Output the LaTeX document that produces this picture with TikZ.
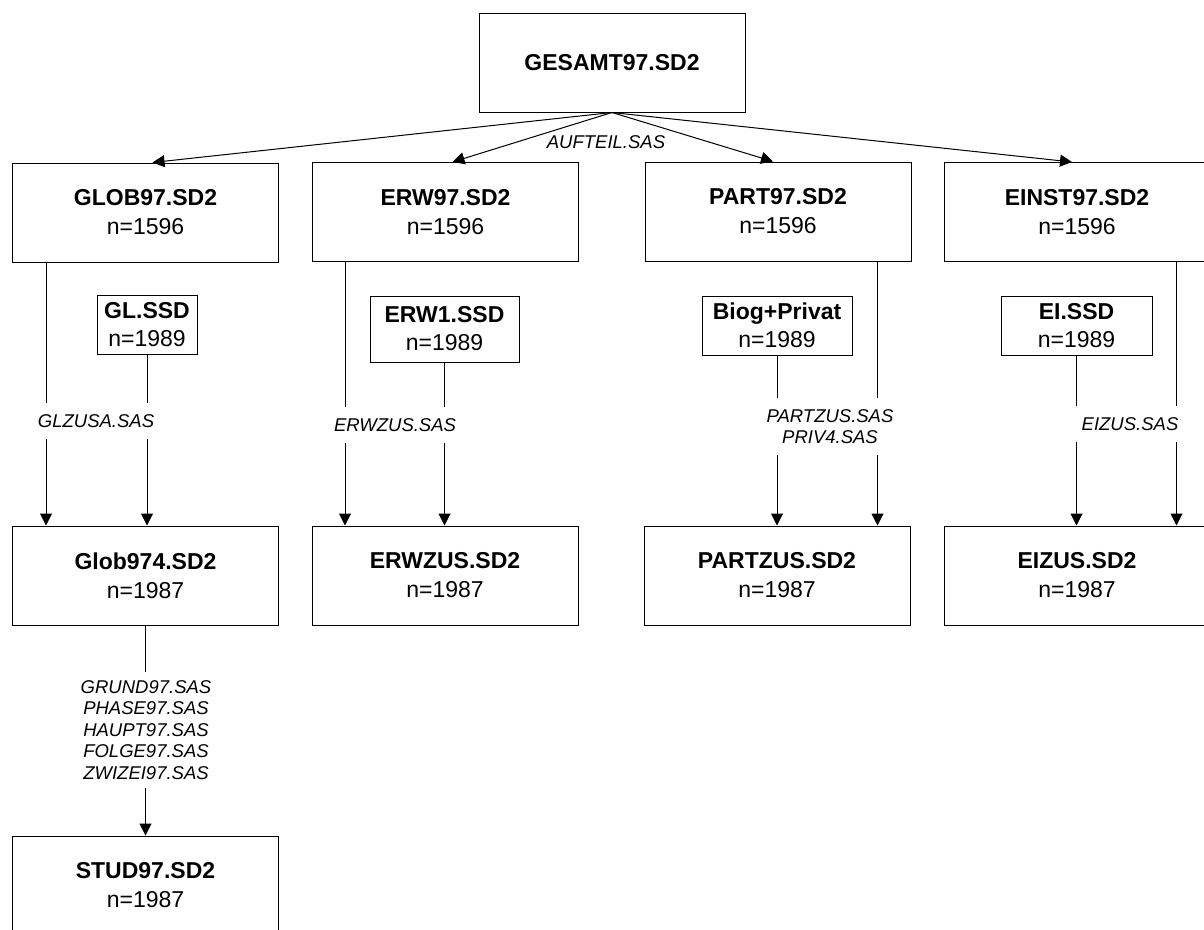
\documentclass[tikz,border=0pt]{standalone}
\usepackage{fontspec}
\setmainfont{Liberation Sans}
\usetikzlibrary{arrows.meta}
\begin{document}
\begin{tikzpicture}[x=1pt,y=-1pt,line width=1pt,
    file/.style={draw,minimum width=266pt,minimum height=99pt,inner sep=0pt,align=center,font=\fontsize{23}{29}\selectfont},
    subfile/.style={draw,minimum height=59pt,inner sep=0pt,align=center,font=\fontsize{23}{28}\selectfont},
    prog/.style={inner xsep=6pt,inner ysep=11pt,align=center,font=\fontsize{18.5}{21.5}\selectfont\itshape},
    gap/.style={prog,fill=white},
    flow/.style={-{Triangle[length=12pt,width=12pt]}}]
  \clip (0,0) rectangle (1204,929);

  \node [file] (gesamt) at (612,62.5) {\textbf{GESAMT97.SD2}};

  \node [file] (glob) at (145.5,212.5) {\textbf{GLOB97.SD2}\\n=1596};
  \node [file] (erw) at (445.5,212) {\textbf{ERW97.SD2}\\n=1596};
  \node [file] (part) at (778,211.5) {\textbf{PART97.SD2}\\n=1596};
  \node [file] (einst) at (1077,212) {\textbf{EINST97.SD2}\\n=1596};

  \node [subfile,minimum width=100pt] (glssd) at (147,324.5) {\textbf{GL.SSD}\\n=1989};
  \node [subfile,minimum width=149pt,minimum height=66pt] (erwssd) at (444.5,329) {\textbf{ERW1.SSD}\\n=1989};
  \node [subfile,minimum width=150pt] (biog) at (777,325.5) {\textbf{Biog+Privat}\\n=1989};
  \node [subfile,minimum width=151pt] (eissd) at (1076.5,325.5) {\textbf{EI.SSD}\\n=1989};

  \node [file] (globz) at (145.5,575.5) {\textbf{Glob974.SD2}\\n=1987};
  \node [file] (erwz) at (445,575.5) {\textbf{ERWZUS.SD2}\\n=1987};
  \node [file] (partz) at (777,575.5) {\textbf{PARTZUS.SD2}\\n=1987};
  \node [file] (eiz) at (1077,575.5) {\textbf{EIZUS.SD2}\\n=1987};

  \node [file] (stud) at (145.5,885.5) {\textbf{STUD97.SD2}\\n=1987};

  \foreach \n/\dx in {glob/7,erw/7,part/-5,einst/-5}
    \draw [flow] (gesamt.south) -- ([xshift=\dx pt]\n.north);
  \node [prog] (aufteil) at (606,142) {AUFTEIL.SAS};

  \draw [flow] ([xshift=34pt]glob.south west) -- ([xshift=34pt]glob.south west |- globz.north);
  \draw [flow] (glssd.south) -- (glssd.south |- globz.north);
  \draw [flow] ([xshift=33pt]erw.south west) -- ([xshift=33pt]erw.south west |- erwz.north);
  \draw [flow] (erwssd.south) -- (erwssd.south |- erwz.north);
  \draw [flow] (biog.south) -- (biog.south |- partz.north);
  \draw [flow] ([xshift=-34pt]part.south east) -- ([xshift=-34pt]part.south east |- partz.north);
  \draw [flow] (eissd.south) -- (eissd.south |- eiz.north);
  \draw [flow] ([xshift=-34pt]einst.south east) -- ([xshift=-34pt]einst.south east |- eiz.north);
  \draw [flow] (globz.south) -- (stud.north);

  \node [gap] (glzusa) at (96,421) {GLZUSA.SAS};
  \node [gap] (erwzus) at (395,425) {ERWZUS.SAS};
  \node [gap] (partzus) at (830,426.5) {PARTZUS.SAS\\PRIV4.SAS};
  \node [gap] (eizus) at (1130,424) {EIZUS.SAS};
  \node [gap,inner ysep=8pt] (grund) at (146,730) {GRUND97.SAS\\PHASE97.SAS\\HAUPT97.SAS\\FOLGE97.SAS\\ZWIZEI97.SAS};
\end{tikzpicture}
\end{document}
